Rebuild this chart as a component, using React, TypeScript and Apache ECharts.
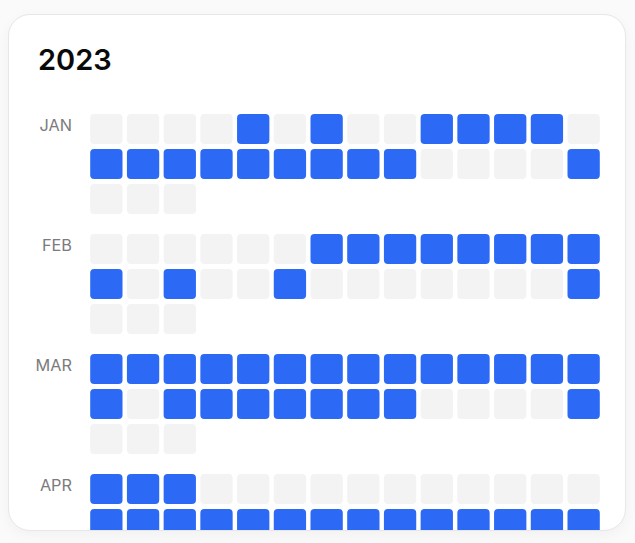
import React, { useEffect, useRef } from "react";
import * as echarts from "echarts";

const TITLE = "2023";
const MONTHS = ["JAN", "FEB", "MAR", "APR"];
const COLUMNS = ["1", "2", "3", "4", "5", "6", "7", "8", "9", "10", "11", "12", "13", "14"];
const ROWS = ["0", "1", "2"];

// 1 = active day (blue), 0 = inactive (gray), in reading order, 14 per row
const JAN = [0, 0, 0, 0, 1, 0, 1, 0, 0, 1, 1, 1, 1, 0, 1, 1, 1, 1, 1, 1, 1, 1, 1, 0, 0, 0, 0, 1, 0, 0, 0];
const FEB = [0, 0, 0, 0, 0, 0, 1, 1, 1, 1, 1, 1, 1, 1, 1, 0, 1, 0, 0, 1, 0, 0, 0, 0, 0, 0, 0, 1, 0, 0, 0];
const MAR = [1, 1, 1, 1, 1, 1, 1, 1, 1, 1, 1, 1, 1, 1, 1, 0, 1, 1, 1, 1, 1, 1, 1, 0, 0, 0, 0, 1, 0, 0, 0];
const APR = [1, 1, 1, 0, 0, 0, 0, 0, 0, 0, 0, 0, 0, 0, 1, 1, 1, 1, 1, 1, 1, 1, 1, 1, 1, 1, 1, 1, 0, 0, 0];
const MONTH_DATA = [JAN, FEB, MAR, APR];

const BLUE = "#2c6af6";
const GRAY = "#f3f3f4";
const FONT = "Inter, 'Noto Sans', sans-serif";

export default function App() {
  const ref = useRef<HTMLDivElement>(null);

  useEffect(() => {
    document.body.style.background = "#fafafb";
    const chart = echarts.init(ref.current!, null, { renderer: "svg" });
    const ncol = COLUMNS.length;
    const grids: any[] = [];
    const xAxes: any[] = [];
    const yAxes: any[] = [];
    const series: any[] = [];
    MONTH_DATA.forEach((arr, m) => {
      grids.push({ left: 88, width: 514, top: 111.5 + 120 * m, height: 105 });
      xAxes.push({
        type: "category",
        gridIndex: m,
        data: COLUMNS,
        show: false,
      });
      yAxes.push({
        type: "category",
        gridIndex: m,
        data: ROWS,
        inverse: true,
        axisLine: { show: false },
        axisTick: { show: false },
        splitLine: { show: false },
        axisLabel: {
          formatter: (_v: string, idx: number) => (idx === 0 ? MONTHS[m] : ""),
          margin: 16,
          color: "#7b7b7d",
          fontSize: 16.3,
          fontFamily: FONT,
          verticalAlign: "bottom",
          lineHeight: 9,
        },
      });
      series.push({
        type: "custom",
        xAxisIndex: m,
        yAxisIndex: m,
        data: arr.map((v, i) => [i % ncol, Math.floor(i / ncol), v]),
        renderItem: (_params: any, api: any) => {
          const p = api.coord([api.value(0), api.value(1)]);
          const s = api.size([1, 1]);
          const w = s[0] - 4.4;
          const h = s[1] - 5;
          return {
            type: "rect",
            shape: { x: p[0] - w / 2, y: p[1] - h / 2, width: w, height: h, r: 4 },
            style: { fill: api.value(2) ? BLUE : GRAY },
          };
        },
      });
    });

    chart.setOption({
      animation: false,
      title: {
        text: TITLE,
        left: 33,
        top: 40,
        textStyle: { fontSize: 29, fontWeight: 600, color: "#0a0a0a", fontFamily: FONT },
      },
      grid: grids,
      xAxis: xAxes,
      yAxis: yAxes,
      series,
    });
    return () => chart.dispose();
  }, []);

  return (
    <div
      style={{
        position: "absolute",
        left: 8,
        top: 14,
        width: 616,
        height: 515,
        border: "1px solid #e7e7ea",
        borderRadius: 22,
        overflow: "hidden",
        background: "#ffffff",
        boxShadow: "0 4px 14px rgba(0,0,0,0.04)",
      }}
    >
      <div
        ref={ref}
        style={{ position: "absolute", left: -9, top: -15, width: 635, height: 600 }}
      />
    </div>
  );
}
